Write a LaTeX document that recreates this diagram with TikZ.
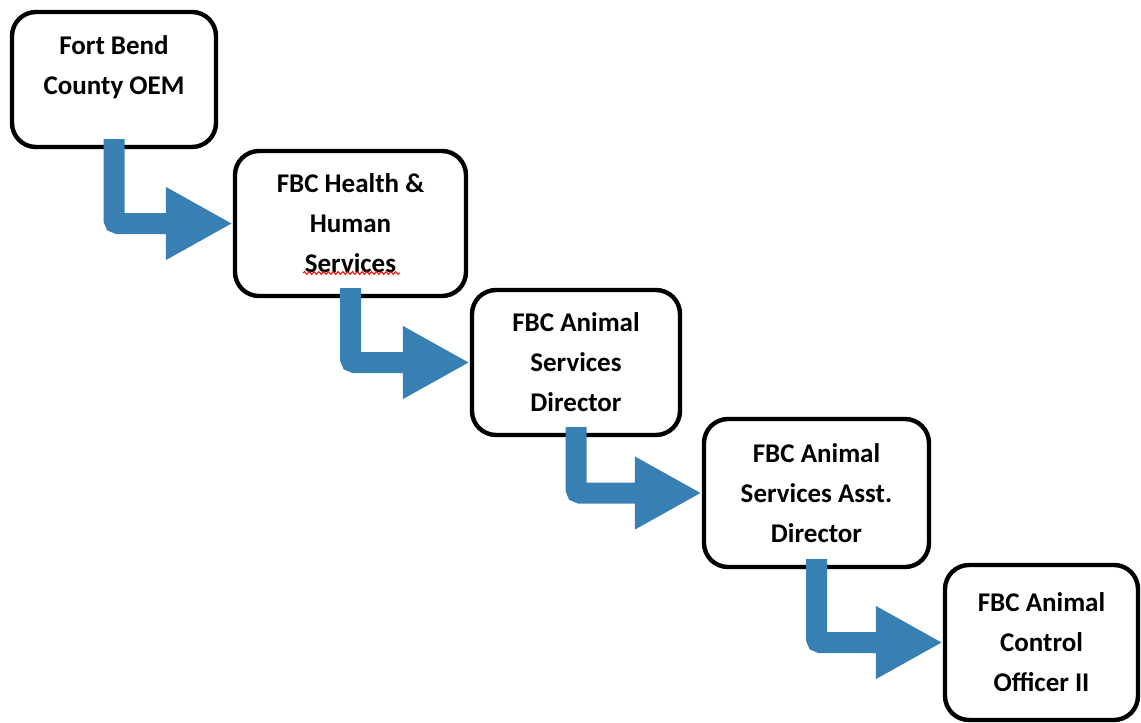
\documentclass[tikz,border=0pt]{standalone}
\usepackage{fontspec}
\setmainfont{Carlito}
\usetikzlibrary{positioning, calc, arrows.meta, decorations.pathmorphing}
\definecolor{flowblue}{RGB}{56,128,180}

\begin{document}
\begin{tikzpicture}[x=0.5pt, y=-0.5pt]
    \tikzset{
        box/.style={draw, line width=2.2pt, rounded corners=12pt, fill=white,
            align=center, inner sep=0pt,
            font=\fontsize{13.5}{20}\selectfont\bfseries}, % black rounded frame
        flow/.style={draw=flowblue, line width=10.5pt, rounded corners=2pt,
            -{Triangle[length=33.5pt, width=34pt]}}, % fat bent blue arrow
        squiggle/.style={draw=red, line width=0.5pt, decorate,
            decoration={snake, amplitude=0.7pt, segment length=2.4pt}}, % spell-check mark
    }
    \useasboundingbox (0,0) rectangle (1141,723);

    \node[box, minimum width=102pt, minimum height=67.5pt] (oem) at (114,79.5) {Fort Bend\\County OEM\\[-5.75pt]\mbox{}};
    \node[box, minimum width=115.5pt, minimum height=72.5pt] (hhs) at (350.5,223.5) {FBC Health \&\\Human\\Services};
    \node[box, minimum width=104pt, minimum height=72.5pt] (dir) at (576,362.5) {FBC Animal\\Services\\Director};
    \node[box, minimum width=112.5pt, minimum height=74pt] (asst) at (816.5,493) {FBC Animal\\Services Asst.\\Director};
    \node[box, minimum width=96.5pt, minimum height=77.5pt] (aco) at (1041.5,642.5) {FBC Animal\\Control\\Officer II};

    \draw[squiggle] ([xshift=-23.75pt, yshift=-24.75pt]hhs.center) -- ([xshift=24.75pt, yshift=-24.75pt]hhs.center);

    \draw[flow] ([yshift=5pt]oem.south) |- (hhs.west);
    \draw[flow] ([yshift=5pt]hhs.south) |- (dir.west);
    \draw[flow] ([yshift=5pt]dir.south) |- (asst.west);
    \draw[flow] ([yshift=5pt]asst.south) |- (aco.west);
\end{tikzpicture}
\end{document}
